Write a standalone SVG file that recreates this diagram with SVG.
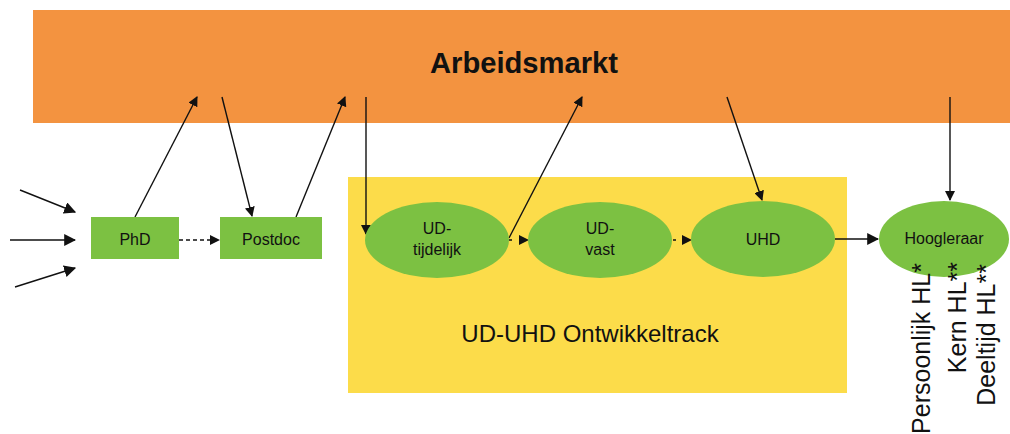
<svg xmlns="http://www.w3.org/2000/svg" width="1010" height="434" viewBox="0 0 1010 434">
<style>
.lbl{font-family:"Liberation Sans",Arial,sans-serif;font-size:16px;fill:#111;text-anchor:middle}
.ln{stroke:#111;stroke-width:1.4;fill:none}
.green{fill:#7CC142}
.vt{font-family:"Liberation Sans",Arial,sans-serif;font-size:25px;fill:#111;text-anchor:end}
</style>
<defs>
<marker id="ah" viewBox="0 0 10 10" refX="9" refY="5" markerWidth="10" markerHeight="10" markerUnits="userSpaceOnUse" orient="auto">
<path d="M0,0 L10,5 L0,10 Z" fill="#111"/>
</marker>
<marker id="ahb" viewBox="0 0 10 10" refX="9" refY="5" markerWidth="12" markerHeight="12" markerUnits="userSpaceOnUse" orient="auto">
<path d="M0,0 L10,5 L0,10 Z" fill="#111"/>
</marker>
</defs>
<g id="arbeidsmarkt">
<rect x="33" y="10" width="977" height="113" fill="#F39340"/>
<text x="524" y="73" font-family="'Liberation Sans',Arial,sans-serif" font-size="29" font-weight="bold" fill="#111" text-anchor="middle" textLength="188" lengthAdjust="spacingAndGlyphs">Arbeidsmarkt</text>
</g>
<g id="track">
<rect x="348" y="177" width="499" height="216" fill="#FCDC4A"/>
<text x="590" y="342" font-family="'Liberation Sans',Arial,sans-serif" font-size="24" fill="#111" text-anchor="middle">UD-UHD Ontwikkeltrack</text>
</g>
<g id="connectors">
<line class="ln" x1="20" y1="190" x2="75" y2="212" marker-end="url(#ahb)"/>
<line class="ln" x1="10" y1="240" x2="75" y2="240" marker-end="url(#ahb)"/>
<line class="ln" x1="15" y1="287" x2="75" y2="268" marker-end="url(#ahb)"/>
<line class="ln" x1="135" y1="217" x2="197" y2="97" marker-end="url(#ah)"/>
<line class="ln" x1="222" y1="97" x2="252" y2="216" marker-end="url(#ah)"/>
<line class="ln" x1="296" y1="217" x2="345" y2="97" marker-end="url(#ah)"/>
<line class="ln" x1="366" y1="97" x2="366" y2="234" marker-end="url(#ah)"/>
<line class="ln" x1="509" y1="238" x2="582" y2="97" marker-end="url(#ah)"/>
<line class="ln" x1="727" y1="97" x2="762" y2="200" marker-end="url(#ah)"/>
<line class="ln" x1="950" y1="97" x2="950" y2="200" marker-end="url(#ah)"/>
<line class="ln" x1="179" y1="240" x2="219" y2="240" stroke-dasharray="4,3" marker-end="url(#ah)"/>
<line class="ln" x1="509" y1="240" x2="528" y2="240" stroke-dasharray="3,7" marker-end="url(#ah)"/>
<line class="ln" x1="673" y1="240" x2="691" y2="240" stroke-dasharray="3,7" marker-end="url(#ah)"/>
<line class="ln" x1="835" y1="239" x2="878" y2="239" marker-end="url(#ahb)"/>
</g>
<g id="phd">
<rect class="green" x="91" y="217" width="88" height="42"/>
<text class="lbl" x="135" y="245">PhD</text>
</g>
<g id="postdoc">
<rect class="green" x="220" y="217" width="102" height="42"/>
<text class="lbl" x="271" y="245">Postdoc</text>
</g>
<g id="ud-tijdelijk">
<ellipse class="green" cx="437" cy="240" rx="72" ry="38"/>
<text class="lbl" x="437" y="234">UD-</text>
<text class="lbl" x="437" y="255">tijdelijk</text>
</g>
<g id="ud-vast">
<ellipse class="green" cx="600" cy="240" rx="72" ry="38"/>
<text class="lbl" x="600" y="234">UD-</text>
<text class="lbl" x="600" y="255">vast</text>
</g>
<g id="uhd">
<ellipse class="green" cx="763" cy="239" rx="72" ry="38"/>
<text class="lbl" x="763" y="245">UHD</text>
</g>
<g id="hoogleraar">
<ellipse class="green" cx="944" cy="239" rx="65" ry="38"/>
<text class="lbl" x="944" y="244" font-size="15">Hoogleraar</text>
</g>
<g id="hl-types">
<text class="vt" transform="translate(930,263) rotate(-90)">Persoonlijk HL*</text>
<text class="vt" transform="translate(966,262) rotate(-90)">Kern HL**</text>
<text class="vt" transform="translate(995,264) rotate(-90)">Deeltijd HL**</text>
</g>
</svg>
